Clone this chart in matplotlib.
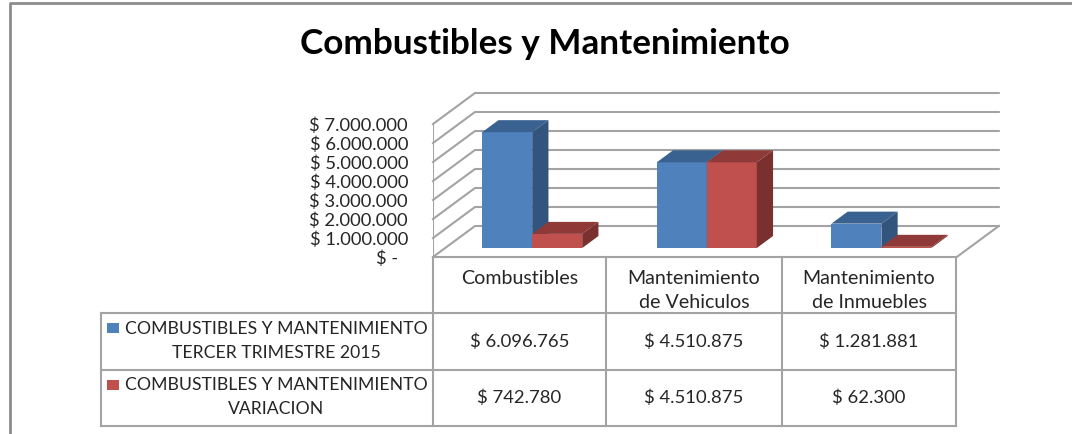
import matplotlib
matplotlib.use('Agg')
import matplotlib.pyplot as plt
import numpy as np

plt.rcParams['font.family'] = ['Lato', 'DejaVu Sans']

categories = ['Combustibles', 'Mantenimiento\nde Vehiculos', 'Mantenimiento\nde Inmuebles']
series_names = ['COMBUSTIBLES Y MANTENIMIENTO\nTERCER TRIMESTRE 2015',
                'COMBUSTIBLES Y MANTENIMIENTO\nVARIACION']
tercer_trimestre = [6096765, 4510875, 1281881]
variacion = [742780, 4510875, 62300]
y_ticks = [0, 1000000, 2000000, 3000000, 4000000, 5000000, 6000000, 7000000]

W, H = 1072, 434
PX_PER_CAT = 174.6
PX_PER_UNIT = 19e-6
DEPTH_X, DEPTH_Y = 42, 31

BLUE = ['#4F81BD', '#3A6290', '#33557D']
RED = ['#C0504D', '#8F3A38', '#7A302E']
GRID = '#A3A3A3'
TEXT = '#262626'


def money(v):
    if v == 0:
        return '$ -  '
    return '$ ' + f'{v:,}'.replace(',', '.')


def project(c, v, d):
    # category position, value and floor depth (0 front, 1 back) to data coords
    return c + d * DEPTH_X / PX_PER_CAT, v + d * DEPTH_Y / PX_PER_UNIT


def box(ax, c0, width, v, colors, d0=9 / 31, d1=21 / 31):
    x0, base = project(c0, 0, d0)
    ax.bar(x0, v, width, bottom=base, align='edge', color=colors[0], zorder=3)
    top = [project(c0, v, d0), project(c0 + width, v, d0),
           project(c0 + width, v, d1), project(c0, v, d1)]
    side = [project(c0 + width, 0, d0), project(c0 + width, v, d0),
            project(c0 + width, v, d1), project(c0 + width, 0, d1)]
    ax.fill(*zip(*top), color=colors[1], lw=0, zorder=3)
    ax.fill(*zip(*side), color=colors[2], lw=0, zorder=3)


fig = plt.figure(figsize=(W / 100, H / 100), dpi=100)

# overlay in pixel coordinates for the frame and the data table
over = fig.add_axes([0, 0, 1, 1])
over.set_xlim(0, W)
over.set_ylim(H, 0)
over.axis('off')

ax = fig.add_axes([433 / W, (H - 257) / H, 567 / W, 164 / H])
ax.set_xlim(0, 567 / PX_PER_CAT)
ax.set_ylim(0, 164 / PX_PER_UNIT)
ax.patch.set_alpha(0)
for s in ax.spines.values():
    s.set_visible(False)
ax.set_xticks([])
ax.set_yticks(y_ticks)
ax.set_yticklabels([money(v) for v in y_ticks], fontsize=13.2, color=TEXT)
ax.tick_params(axis='y', length=0, pad=18)

# walls and floor
for v in y_ticks:
    ax.plot(*zip(project(0, v, 0), project(0, v, 1), project(3, v, 1)),
            color=GRID, lw=1.5, zorder=1, clip_on=False)
ax.plot(*zip(project(0, 0, 0), project(0, y_ticks[-1], 0)), color=GRID, lw=1.5, zorder=1)
ax.plot(*zip(project(3, 0, 0), project(3, 0, 1)), color=GRID, lw=1.5, zorder=1, clip_on=False)

# bars
bar_w = 50 / PX_PER_CAT
for i in range(len(categories)):
    c0 = i + 37 / PX_PER_CAT
    box(ax, c0, bar_w, tercer_trimestre[i], BLUE)
    box(ax, c0 + bar_w, bar_w, variacion[i], RED)

# outer frame, open on the right
over.plot([10, 10, W], [H, 3, 3], color='#8C8C8C', lw=2)

fig.text(545 / W, 1 - 44 / H, 'Combustibles y Mantenimiento', fontsize=25.3,
         fontweight='bold', color='black', ha='center', va='center')

# data table
col_x = [433, 606, 782, 956]
row_y = [257, 313, 369.5, 425.5]
for x in col_x:
    over.plot([x, x], [row_y[0], row_y[-1]], color=GRID, lw=1.5)
over.plot([col_x[0], col_x[-1]], [row_y[0], row_y[0]], color=GRID, lw=1.5)
for y in row_y[1:]:
    over.plot([100.5, col_x[-1]], [y, y], color=GRID, lw=1.5)
over.plot([100.5, 100.5], [row_y[1], row_y[-1]], color=GRID, lw=1.5)

col_c = [(col_x[i] + col_x[i + 1]) / 2 for i in range(3)]
for i, name in enumerate(categories):
    lines = name.split('\n')
    for j, line in enumerate(lines):
        over.text(col_c[i], 278 + j * 24.5, line, fontsize=14.1, color=TEXT, ha='center', va='center')

rows = [tercer_trimestre, variacion]
for r, values in enumerate(rows):
    cy = (row_y[r + 1] + row_y[r + 2]) / 2
    for i, v in enumerate(values):
        over.text(col_c[i], cy + 0.5, money(v), fontsize=13.3, color=TEXT, ha='center', va='center')
    top_line, second_line = series_names[r].split('\n')
    over.text(276, cy - 12.5, top_line, fontsize=12.7, color=TEXT, ha='center', va='center')
    over.text(276, cy + 11.5, second_line, fontsize=12.7, color=TEXT, ha='center', va='center')
    over.add_patch(plt.Rectangle((107, cy - 18), 12, 10, color=[BLUE, RED][r][0], lw=0))

fig.savefig('out.png', dpi=100)
